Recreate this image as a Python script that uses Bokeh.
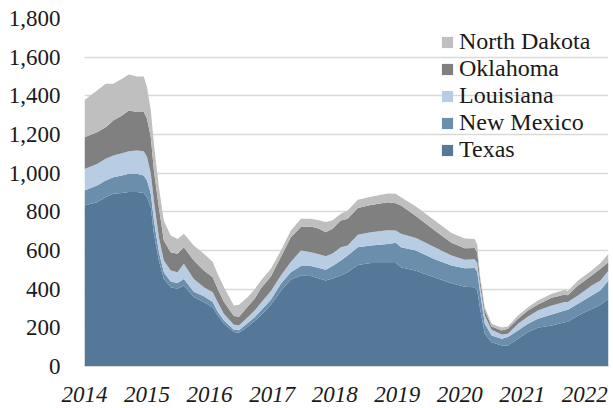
import pandas as pd
from bokeh.plotting import figure
from bokeh.models import (ColumnDataSource, Range1d, FixedTicker, Legend, LegendItem,
                          NumeralTickFormatter)
from bokeh.embed import file_html
from bokeh.resources import INLINE

# ---- data (weekly rig counts) ----
dates = ["2014-01-01", "2014-03-15", "2014-05-05", "2014-06-18", "2014-08-08", "2014-09-17",
         "2014-11-03", "2014-12-13", "2015-01-01", "2015-01-23", "2015-02-10", "2015-03-11",
         "2015-04-09", "2015-05-19", "2015-06-28", "2015-08-04", "2015-10-01", "2015-11-29",
         "2016-01-19", "2016-02-17", "2016-03-25", "2016-05-22", "2016-06-21", "2016-08-11",
         "2016-09-20", "2016-10-27", "2016-12-24", "2017-02-21", "2017-04-20", "2017-06-18",
         "2017-08-15", "2017-10-02", "2017-11-10", "2017-12-20", "2018-02-06", "2018-03-18",
         "2018-05-16", "2018-07-31", "2018-11-07", "2018-12-24", "2019-01-23", "2019-04-20",
         "2019-08-08", "2019-11-14", "2020-01-30", "2020-03-28", "2020-04-12", "2020-04-27",
         "2020-05-26", "2020-07-05", "2020-09-02", "2020-10-08", "2020-12-06", "2021-02-03",
         "2021-04-02", "2021-06-21", "2021-09-06", "2021-09-24", "2021-11-22", "2022-02-10",
         "2022-04-02", "2022-05-19"]

texas = [833, 850, 876, 893, 897, 902, 902, 897, 876, 824, 686, 548,
         453, 410, 402, 419, 359, 333, 307, 264, 221, 178, 175, 205,
         235, 265, 320, 390, 450, 470, 468, 455, 445, 455, 471, 488,
         525, 535, 535, 535, 514, 495, 460, 430, 412, 410, 395, 307,
         169, 126, 109, 109, 143, 178, 200, 212, 229, 232, 264, 298,
         320, 350]
new_mexico = [77, 86, 86, 86, 91, 95, 95, 91, 86, 69, 70, 45,
              35, 30, 30, 34, 28, 30, 26, 20, 17, 12, 12, 20,
              20, 25, 25, 38, 38, 50, 52, 55, 55, 65, 77, 86,
              92, 91, 99, 105, 103, 105, 95, 92, 96, 100, 95, 86,
              52, 34, 34, 43, 43, 43, 47, 57, 61, 61, 60, 69,
              75, 95]
louisiana = [112, 112, 112, 112, 115, 117, 120, 126, 121, 104, 103, 76,
             60, 57, 56, 78, 66, 47, 51, 49, 34, 26, 27, 30,
             35, 40, 45, 43, 52, 80, 71, 70, 70, 65, 69, 52,
             65, 69, 71, 63, 69, 65, 62, 52, 44, 45, 45, 35,
             43, 30, 23, 17, 35, 38, 43, 47, 43, 40, 43, 52,
             50, 52]
oklahoma = [164, 164, 164, 181, 195, 210, 199, 202, 198, 189, 155, 155,
            104, 94, 95, 86, 95, 87, 78, 69, 61, 45, 43, 55,
            60, 75, 75, 95, 129, 121, 133, 132, 125, 127, 138, 138,
            138, 140, 145, 142, 147, 113, 86, 66, 60, 58, 55, 34,
            26, 17, 20, 26, 26, 31, 31, 39, 39, 35, 52, 52,
            60, 43]
north_dakota = [193, 216, 224, 190, 190, 186, 184, 184, 164, 138, 138, 104,
                103, 87, 77, 69, 78, 86, 80, 77, 77, 55, 63, 50,
                50, 40, 40, 34, 34, 43, 40, 45, 52, 45, 35, 43,
                42, 43, 45, 48, 43, 50, 52, 50, 50, 47, 40, 17,
                17, 14, 14, 12, 17, 17, 20, 21, 25, 22, 26, 26,
                30, 43]

series_names = ["Texas", "New Mexico", "Louisiana", "Oklahoma", "North Dakota"]
series_colors = ["#557899", "#6C8EAD", "#B8CCE4", "#808080", "#BFBFBF"]
year_labels = ["2014", "2015", "2016", "2017", "2018", "2019", "2020", "2021", "2022"]
y_ticks = [0, 200, 400, 600, 800, 1000, 1200, 1400, 1600, 1800]

# ---- build ----
d = pd.to_datetime(dates)
x = list(d.year + (d.dayofyear - 1) / 365.25)

src = ColumnDataSource(dict(x=x, **{
    "Texas": texas, "New Mexico": new_mexico, "Louisiana": louisiana,
    "Oklahoma": oklahoma, "North Dakota": north_dakota}))

FONT = "serif"

p = figure(width=610, height=407, output_backend="svg", toolbar_location=None,
           x_range=Range1d(x[0], x[-1]), y_range=Range1d(0, 1800),
           min_border_left=84, min_border_right=2, min_border_top=18, min_border_bottom=41)

renderers = p.varea_stack(stackers=series_names, x="x", color=series_colors, source=src)

# axes
yax = p.yaxis[0]
yax.ticker = FixedTicker(ticks=y_ticks)
yax.formatter = NumeralTickFormatter(format="0,0")
yax.axis_line_color = None
yax.major_tick_line_color = None
yax.minor_tick_line_color = None
yax.major_label_standoff = 18
yax.major_label_text_font = FONT
yax.major_label_text_font_size = "23px"
yax.major_label_text_color = "#1a1a1a"

tick_pos = [float(y) for y in year_labels]
xax = p.xaxis[0]
xax.ticker = FixedTicker(ticks=tick_pos)
xax.major_label_overrides = {t: lab for t, lab in zip(tick_pos, year_labels)}
xax.axis_line_color = "#D9D9D9"
xax.major_tick_line_color = None
xax.minor_tick_line_color = None
xax.major_label_standoff = 14
xax.major_label_text_font = FONT
xax.major_label_text_font_style = "italic"
xax.major_label_text_font_size = "23px"
xax.major_label_text_color = "#1a1a1a"

p.xgrid.visible = False
p.ygrid.ticker = FixedTicker(ticks=y_ticks)
p.ygrid.grid_line_color = "#D9D9D9"
p.ygrid.grid_line_width = 1.5
p.outline_line_color = None

# legend (top of stack listed first)
items = [LegendItem(label=n, renderers=[r]) for n, r in zip(series_names, renderers)][::-1]
legend = Legend(items=items, location=(356, 203), orientation="vertical",
                background_fill_alpha=0, border_line_color=None,
                padding=0, margin=0, spacing=0,
                glyph_width=14, glyph_height=14, label_standoff=5,
                label_text_font=FONT, label_text_font_size="24px",
                label_text_color="#1a1a1a")
p.add_layout(legend)

open("out.html", "w").write(file_html(p, INLINE))
